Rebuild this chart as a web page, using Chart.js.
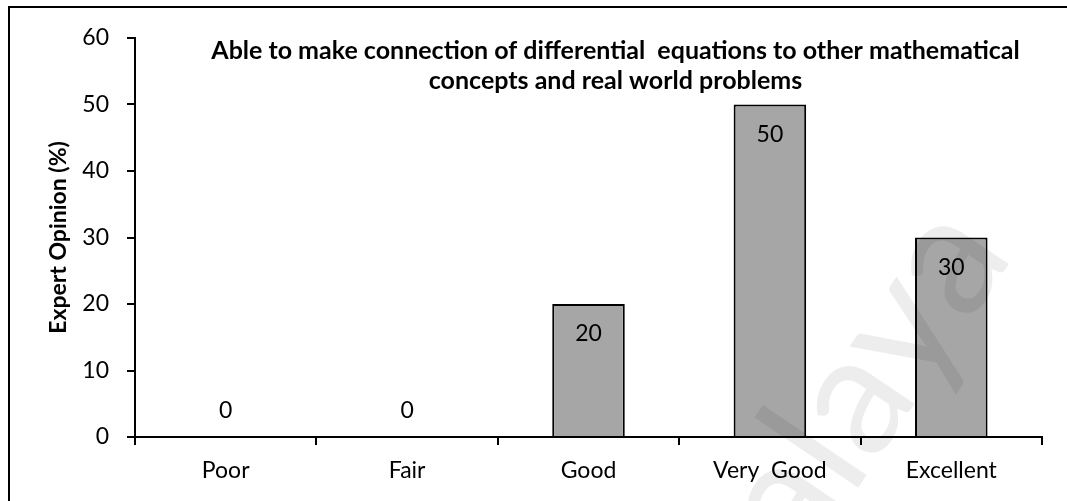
<!DOCTYPE html>
<html>
<head>
<meta charset="utf-8">
<script src="https://cdn.jsdelivr.net/npm/chart.js@4/dist/chart.umd.min.js"></script>
<style>
  html, body { margin: 0; padding: 0; background: #ffffff; }
  #wrap { width: 1067px; height: 501px; position: relative; }
</style>
</head>
<body>
<div id="wrap"><canvas id="c" width="1067" height="501"></canvas></div>
<script>
const categories = ["Poor", "Fair", "Good", "Very  Good", "Excellent"];
const values = [0, 0, 20, 50, 30];
const yTicks = [0, 10, 20, 30, 40, 50, 60];
const titleLines = ["Able to make connection of differential  equations to other mathematical", "concepts and real world problems"];
const yTitle = "Expert Opinion (%)";
const watermark = "Malaya";

const FONT = "Lato, 'Open Sans', sans-serif";

const framePlugin = {
  id: 'frame',
  beforeDraw(chart) {
    const ctx = chart.ctx;
    ctx.save();
    ctx.fillStyle = '#ffffff';
    ctx.fillRect(0, 0, chart.width, chart.height);
    ctx.strokeStyle = '#000000';
    ctx.lineWidth = 2;
    ctx.beginPath();
    ctx.moveTo(9, chart.height + 5);
    ctx.lineTo(9, 7);
    ctx.lineTo(chart.width + 5, 7);
    ctx.stroke();
    ctx.restore();
  }
};

const labelPlugin = {
  id: 'barLabels',
  afterDatasetsDraw(chart) {
    const ctx = chart.ctx;
    const meta = chart.getDatasetMeta(0);
    ctx.save();
    ctx.font = "23px " + FONT;
    ctx.fillStyle = '#000000';
    ctx.textAlign = 'center';
    ctx.textBaseline = 'middle';
    meta.data.forEach((bar, i) => {
      const v = values[i];
      const y = v > 0 ? bar.y + 30 : bar.base - 26;
      ctx.fillText(String(v), bar.x, y);
    });
    ctx.restore();
  }
};

const titlePlugin = {
  id: 'titleIn',
  afterDraw(chart) {
    const ctx = chart.ctx;
    const a = chart.chartArea;
    const cx = (a.left + a.right) / 2 + 27;
    ctx.save();
    ctx.font = "bold 25px " + FONT;
    ctx.fillStyle = '#000000';
    ctx.textAlign = 'center';
    ctx.textBaseline = 'middle';
    titleLines.forEach((t, i) => ctx.fillText(t, cx, a.top + 13 + i * 30));
    ctx.restore();
  }
};

const watermarkPlugin = {
  id: 'watermark',
  afterDraw(chart) {
    const ctx = chart.ctx;
    ctx.save();
    ctx.translate(1015, 255);
    ctx.rotate(-56 * Math.PI / 180);
    ctx.font = "170px " + FONT;
    ctx.fillStyle = 'rgba(0,0,0,0.07)';
    ctx.textAlign = 'right';
    ctx.textBaseline = 'alphabetic';
    ctx.fillText(watermark, 0, 0);
    ctx.restore();
  }
};

new Chart(document.getElementById('c'), {
  type: 'bar',
  data: {
    labels: categories,
    datasets: [{
      data: values,
      backgroundColor: '#a6a6a6',
      borderColor: '#000000',
      borderWidth: 2,
      categoryPercentage: 0.4,
      barPercentage: 1.0
    }]
  },
  options: {
    responsive: false,
    animation: false,
    devicePixelRatio: 1,
    layout: { padding: { left: 0, top: 38, right: 25, bottom: 0 } },
    plugins: {
      legend: { display: false },
      tooltip: { enabled: false },
      title: { display: false }
    },
    scales: {
      x: {
        offset: true,
        grid: {
          offset: true,
          drawOnChartArea: false,
          drawTicks: true,
          tickLength: 8,
          color: '#000000',
          lineWidth: 2
        },
        border: { display: true, color: '#000000', width: 2 },
        ticks: {
          color: '#000000',
          font: { family: FONT, size: 23 },
          padding: 12,
          maxRotation: 0
        },
        afterFit(scale) { scale.height = 64; }
      },
      y: {
        min: 0,
        max: 60,
        afterBuildTicks(scale) { scale.ticks = yTicks.map(v => ({ value: v })); },
        grid: {
          drawOnChartArea: false,
          drawTicks: true,
          tickLength: 8,
          color: '#000000',
          lineWidth: 2
        },
        border: { display: true, color: '#000000', width: 2 },
        ticks: {
          color: '#000000',
          font: { family: FONT, size: 23 },
          padding: 18
        },
        title: {
          display: true,
          text: yTitle,
          color: '#000000',
          font: { family: FONT, size: 23, weight: 'bold' },
          padding: { top: 45, bottom: 0 }
        },
        afterFit(scale) { scale.width = 135; }
      }
    }
  },
  plugins: [framePlugin, labelPlugin, titlePlugin, watermarkPlugin]
});
</script>
</body>
</html>
